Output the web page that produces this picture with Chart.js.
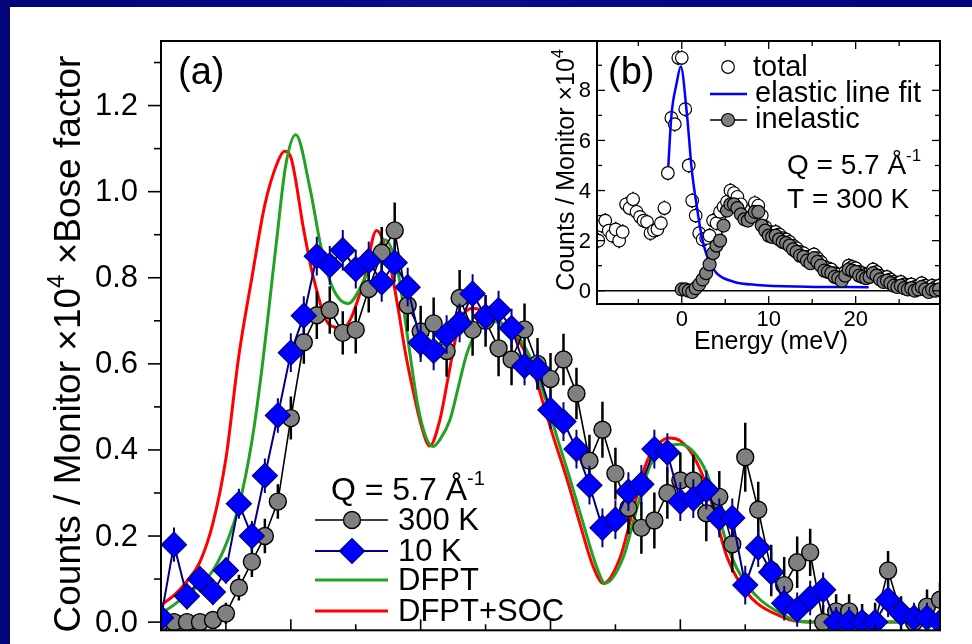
<!DOCTYPE html>
<html>
<head>
<meta charset="utf-8">
<script src="https://cdn.jsdelivr.net/npm/chart.js@4.4.1/dist/chart.umd.min.js"></script>
<style>
  html, body { margin: 0; padding: 0; }
  body {
    width: 972px; height: 644px; overflow: hidden; position: relative;
    background: linear-gradient(90deg, #03037a, #0b0b8c 45%, #04047e);
  }
  #sheet { position: absolute; left: 10px; top: 7px; right: 0; bottom: 0; background: #fff; }
  #main { position: absolute; left: 0; top: 0; width: 972px; height: 644px; }
  #inset { position: absolute; left: 540px; top: 30px; width: 432px; height: 340px; }
</style>
</head>
<body>
<div id="sheet"></div>
<canvas id="main" width="972" height="644"></canvas>
<canvas id="inset" width="432" height="340"></canvas>
<script>
const FONT = '"Liberation Sans", Arial, Helvetica, sans-serif';

// ---- panel (a): phonon spectrum, Q = 5.7 1/A ----
const energyMain = [0, 0.5, 1, 1.5, 2, 2.5, 3, 3.5, 4, 4.5, 5, 5.5, 6, 6.5, 7, 7.5, 8, 8.5, 9, 9.5,
  10, 10.5, 11, 11.5, 12, 12.5, 13, 13.5, 14, 14.5, 15, 15.5, 16, 16.5, 17, 17.5, 18, 18.5, 19, 19.5,
  20, 20.5, 21, 21.5, 22, 22.5, 23, 23.5, 24, 24.5, 25, 25.5, 26, 26.5, 27, 27.5, 28, 28.5, 29, 29.5, 30];

const counts300K = [0.00, 0.00, 0.00, 0.00, 0.005, 0.02, 0.08, 0.14, 0.20, 0.28,
  0.474, 0.65, 0.713, 0.725, 0.672, 0.679, 0.774, 0.858, 0.91, 0.736,
  0.675, 0.694, 0.63, 0.753, 0.679, 0.70, 0.636, 0.61, 0.68, 0.60,
  0.565, 0.61, 0.531, 0.375, 0.447, 0.345, 0.265, 0.219, 0.236, 0.30,
  0.329, 0.329, 0.253, 0.291, 0.181, 0.383, 0.261, 0.12, 0.086, 0.139,
  0.162, 0.0, 0.025, 0.025, 0.002, 0.0, 0.12, 0.02, 0.0, 0.036, 0.052];
const err300K = [0.02, 0.02, 0.02, 0.02, 0.02, 0.025, 0.03, 0.035, 0.04, 0.04,
  0.05, 0.05, 0.055, 0.055, 0.05, 0.055, 0.055, 0.06, 0.065, 0.06,
  0.06, 0.06, 0.06, 0.065, 0.06, 0.06, 0.065, 0.06, 0.06, 0.06,
  0.06, 0.06, 0.06, 0.06, 0.065, 0.06, 0.06, 0.06, 0.065, 0.06,
  0.065, 0.06, 0.065, 0.06, 0.065, 0.08, 0.065, 0.06, 0.065, 0.06,
  0.055, 0.04, 0.04, 0.04, 0.04, 0.045, 0.045, 0.04, 0.04, 0.04, 0.04];

const counts10K = [0.01, 0.18, 0.06, 0.10, 0.07, 0.12, 0.275, 0.20, 0.34, 0.48,
  0.626, 0.712, 0.85, 0.829, 0.864, 0.82, 0.839, 0.789, 0.835, 0.778,
  0.649, 0.63, 0.668, 0.695, 0.763, 0.71, 0.725, 0.683, 0.595, 0.588,
  0.493, 0.466, 0.402, 0.318, 0.219, 0.238, 0.303, 0.32, 0.402, 0.394,
  0.28, 0.287, 0.307, 0.242, 0.242, 0.086, 0.173, 0.116, 0.044, 0.029,
  0.056, 0.075, 0.0, 0.0, 0.0, 0.0, 0.052, 0.021, 0.01, 0.01, 0.0];
const err10K = [0.03, 0.04, 0.03, 0.03, 0.03, 0.03, 0.035, 0.035, 0.04, 0.04,
  0.045, 0.045, 0.045, 0.045, 0.047, 0.045, 0.045, 0.045, 0.045, 0.045,
  0.045, 0.045, 0.045, 0.045, 0.045, 0.045, 0.045, 0.045, 0.045, 0.045,
  0.045, 0.045, 0.045, 0.045, 0.045, 0.045, 0.045, 0.045, 0.045, 0.045,
  0.045, 0.045, 0.045, 0.045, 0.045, 0.045, 0.045, 0.045, 0.04, 0.04,
  0.04, 0.04, 0.035, 0.035, 0.035, 0.035, 0.04, 0.035, 0.035, 0.035, 0.035];

// calculated spectra
const dfptE = [0, 0.5, 1, 1.5, 2, 2.5, 3, 3.5, 3.86, 4.44, 4.8, 5.19, 5.73, 6.18, 6.63, 7.2,
  7.91, 8.62, 9.13, 9.52, 9.9, 10.2, 10.48, 10.74, 11.13, 11.45, 11.77, 12.16, 12.6, 13.2, 13.8, 14.4,
  14.86, 15.3, 15.75, 16.27, 16.78, 17.1, 17.8, 18.33, 18.84, 19.4, 20.0, 20.64, 21.1, 21.54, 21.93, 22.44,
  23.08, 23.85, 24.6, 25.5, 30];
const dfptV = [0.02, 0.04, 0.065, 0.086, 0.12, 0.18, 0.27, 0.42, 0.576, 0.88, 1.06, 1.132, 1.01, 0.866, 0.774, 0.74,
  0.805, 0.888, 0.812, 0.652, 0.5, 0.43, 0.408, 0.424, 0.47, 0.546, 0.622, 0.675, 0.7, 0.69, 0.66, 0.59,
  0.508, 0.42, 0.333, 0.227, 0.128, 0.09, 0.15, 0.265, 0.364, 0.405, 0.413, 0.386, 0.333, 0.234, 0.158, 0.097,
  0.052, 0.021, 0.002, 0, 0];

const socE = [0, 0.5, 1, 1.5, 2, 2.5, 3, 3.5, 4, 4.5, 4.76, 5, 5.5, 5.85, 6.5, 7,
  7.8, 8.3, 8.8, 9.13, 9.4, 9.7, 10.03, 10.35, 10.74, 11.06, 11.38, 11.64, 12, 12.5, 13, 13.7,
  14.34, 14.72, 15.1, 15.63, 16.14, 16.65, 17.04, 17.68, 18.2, 18.7, 19.2, 19.6, 20, 20.5, 21, 21.4,
  21.8, 22.3, 22.95, 23.85, 24.5, 25.5, 30];
const socV = [0.04, 0.062, 0.095, 0.14, 0.23, 0.38, 0.62, 0.8, 0.97, 1.07, 1.094, 1.08, 0.91, 0.805, 0.69, 0.683,
  0.79, 0.91, 0.835, 0.729, 0.63, 0.54, 0.455, 0.409, 0.47, 0.569, 0.668, 0.713, 0.729, 0.72, 0.7, 0.66,
  0.584, 0.508, 0.432, 0.333, 0.227, 0.128, 0.09, 0.15, 0.265, 0.371, 0.417, 0.428, 0.421, 0.386, 0.318, 0.234,
  0.151, 0.09, 0.044, 0.014, 0.002, 0, 0];

const yMajorTicks = [0, 0.2, 0.4, 0.6, 0.8, 1.0, 1.2];
const yMinorTicks = [0.1, 0.3, 0.5, 0.7, 0.9, 1.1, 1.3];
const xMajorTicks = [0, 5, 10, 15, 20, 25, 30];
const xMinorTicks = [2.5, 7.5, 12.5, 17.5, 22.5, 27.5];

// ---- panel (b): raw spectrum at 300 K ----
const totalE = [-9.6, -9.2, -8.8, -8.4, -8.0, -7.6, -7.2, -6.8, -6.4, -6.0,
  -5.6, -5.2, -4.8, -4.4, -4.0, -3.6, -3.2, -2.8, -2.4, -2.0,
  -1.6, -1.2, -0.8, -0.4, 0.0, 0.4, 0.8, 1.2, 1.6, 2.0,
  2.4, 2.8, 3.2, 3.6, 4.0, 4.4, 4.8, 5.2, 5.6, 6.0,
  6.4, 6.8, 7.2, 7.6, 8.0, 8.4, 8.8, 9.2, 9.6, 10.0,
  10.4, 10.8, 11.2, 11.6, 12.0, 12.4, 12.8, 13.2, 13.6, 14.0,
  14.4, 14.8, 15.2, 15.6, 16.0, 16.4, 16.8, 17.2, 17.6, 18.0,
  18.4, 18.8, 19.2, 19.6, 20.0, 20.4, 20.8, 21.2, 21.6, 22.0,
  22.4, 22.8, 23.2, 23.6, 24.0, 24.4, 24.8, 25.2, 25.6, 26.0,
  26.4, 26.8, 27.2, 27.6, 28.0, 28.4, 28.8, 29.2, 29.6];
const totalV = [2.0, 2.6, 2.8, 2.4, 2.2, 2.45, 2.0, 2.35, 3.45, 3.3,
  3.65, 3.15, 2.95, 2.8, 2.75, 2.3, 2.4, 2.45, 2.7, 3.3,
  4.7, 6.9, 6.65, 9.3, 9.3, 7.25, 5.0, 3.6, 3.0, 2.3,
  2.05, 2.1, 2.2, 2.8, 2.7, 3.15, 3.35, 3.55, 4.0, 3.9,
  3.75, 3.45, 3.05, 2.95, 3.2, 3.5, 3.4, 3.0, 2.55, 2.35,
  2.3, 2.35, 2.25, 2.1, 2.05, 1.95, 1.8, 1.7, 1.55, 1.5,
  1.35, 1.25, 1.45, 1.3, 1.15, 0.95, 0.9, 0.85, 0.7, 0.65,
  0.55, 0.75, 1.0, 0.95, 0.9, 0.75, 0.7, 0.65, 0.7, 0.85,
  0.75, 0.6, 0.5, 0.55, 0.45, 0.35, 0.3, 0.35, 0.25, 0.2,
  0.25, 0.15, 0.2, 0.3, 0.2, 0.1, 0.2, 0.15, 0.2];
const totalErr = 0.3;

const inelasticE = [0.0, 0.4, 0.8, 1.2, 1.6, 2.0, 2.4, 2.8, 3.2, 3.6,
  4.0, 4.4, 4.8, 5.2, 5.6, 6.0, 6.4, 6.8, 7.2, 7.6,
  8.0, 8.4, 8.8, 9.2, 9.6, 10.0, 10.4, 10.8, 11.2, 11.6,
  12.0, 12.4, 12.8, 13.2, 13.6, 14.0, 14.4, 14.8, 15.2, 15.6,
  16.0, 16.4, 16.8, 17.2, 17.6, 18.0, 18.4, 18.8, 19.2, 19.6,
  20.0, 20.4, 20.8, 21.2, 21.6, 22.0, 22.4, 22.8, 23.2, 23.6,
  24.0, 24.4, 24.8, 25.2, 25.6, 26.0, 26.4, 26.8, 27.2, 27.6,
  28.0, 28.4, 28.8, 29.2, 29.6];
const inelasticV = [0.05, 0.05, 0.0, -0.05, 0.1, 0.25, 0.45, 0.7, 1.05, 1.5,
  1.8, 2.0, 2.6, 3.2, 3.45, 3.45, 3.3, 3.05, 2.85, 2.8,
  2.95, 3.15, 3.15, 2.6, 2.4, 2.2, 2.15, 2.2, 2.05, 1.95,
  1.9, 1.8, 1.65, 1.55, 1.4, 1.35, 1.2, 1.1, 1.3, 1.15,
  1.0, 0.8, 0.75, 0.7, 0.55, 0.5, 0.4, 0.6, 0.85, 0.8,
  0.75, 0.6, 0.55, 0.5, 0.55, 0.7, 0.6, 0.45, 0.35, 0.4,
  0.3, 0.2, 0.15, 0.2, 0.1, 0.05, 0.1, 0.0, 0.05, 0.15,
  0.05, -0.05, 0.05, 0.0, 0.05];

const elasticFitE = [-1.55, -1.2, -0.58, -0.12, 0.58, 1.15, 1.73, 2.3, 3.07, 4.0, 5.95, 8.65, 14.4, 21.5];
const elasticFitV = [4.96, 6.96, 8.3, 8.95, 7.1, 4.83, 3.36, 2.16, 1.23, 0.7, 0.36, 0.23, 0.16, 0.14];

const insetXMajor = [0, 10, 20];
const insetXMinor = [-5, 5, 15, 25];
const insetYMajor = [0, 2, 4, 6, 8];
const insetYMinor = [1, 3, 5, 7, 9];

const pts = (xs, ys) => xs.map((x, i) => ({ x, y: ys[i] }));

function seg(ctx, x1, y1, x2, y2) {
  ctx.beginPath();
  ctx.moveTo(x1, y1);
  ctx.lineTo(x2, y2);
  ctx.stroke();
}

function marker(ctx, style, x, y, r, fill, stroke, bw) {
  ctx.beginPath();
  if (style === 'circle') {
    ctx.arc(x, y, r, 0, Math.PI * 2);
  } else {
    ctx.moveTo(x - r, y); ctx.lineTo(x, y - r); ctx.lineTo(x + r, y); ctx.lineTo(x, y + r);
    ctx.closePath();
  }
  ctx.fillStyle = fill;
  ctx.fill();
  ctx.lineWidth = bw;
  ctx.strokeStyle = stroke;
  ctx.stroke();
}

// text made of runs, each run may be raised (superscripts)
function richText(ctx, runs, x, y) {
  let cx = x;
  runs.forEach(r => {
    ctx.font = `${r.size}px ${FONT}`;
    ctx.fillText(r.t, cx, y - (r.rise || 0));
    cx += ctx.measureText(r.t).width;
  });
}
function richWidth(ctx, runs) {
  return runs.reduce((w, r) => { ctx.font = `${r.size}px ${FONT}`; return w + ctx.measureText(r.t).width; }, 0);
}

// vertical error bars, drawn under each series' own markers
const errorBars = {
  id: 'errorBars',
  beforeDatasetDraw(chart, args) {
    const ds = chart.data.datasets[args.index];
    const eb = ds.errorBars;
    if (!eb) return;
    const { ctx, chartArea: a, scales: { x, y } } = chart;
    ctx.save();
    ctx.beginPath();
    ctx.rect(a.left, a.top, a.right - a.left, a.bottom - a.top);
    ctx.clip();
    ctx.strokeStyle = eb.color;
    ctx.lineWidth = eb.width;
    ctx.beginPath();
    ds.data.forEach((p, i) => {
      const e = Array.isArray(eb.values) ? eb.values[i] : eb.values;
      const px = x.getPixelForValue(p.x);
      ctx.moveTo(px, y.getPixelForValue(p.y - e));
      ctx.lineTo(px, y.getPixelForValue(p.y + e));
    });
    ctx.stroke();
    ctx.restore();
  }
};

// frame, ticks, labels and legend of panel (a)
const mainDecor = {
  id: 'mainDecor',
  afterDatasetsDraw(chart) {
    const { ctx, chartArea: a, scales: { x, y } } = chart;
    ctx.save();
    ctx.strokeStyle = '#000';
    ctx.fillStyle = '#000';
    ctx.lineWidth = 2;
    ctx.strokeRect(a.left, a.top, a.right - a.left, a.bottom - a.top);

    ctx.lineWidth = 1.6;
    yMajorTicks.forEach(v => { const py = y.getPixelForValue(v); seg(ctx, a.left - 13, py, a.left, py); });
    yMinorTicks.forEach(v => { const py = y.getPixelForValue(v); seg(ctx, a.left - 7, py, a.left, py); });
    xMajorTicks.forEach(v => { const px = x.getPixelForValue(v); seg(ctx, px, a.bottom, px, a.bottom - 11); });
    xMinorTicks.forEach(v => { const px = x.getPixelForValue(v); seg(ctx, px, a.bottom, px, a.bottom - 6); });

    ctx.font = `31px ${FONT}`;
    ctx.textAlign = 'right';
    ctx.textBaseline = 'middle';
    yMajorTicks.forEach(v => ctx.fillText(v.toFixed(1), a.left - 23, y.getPixelForValue(v) + 1));

    // axis title, rotated
    const title = [
      { t: 'Counts / Monitor \u00d710', size: 37 },
      { t: '4', size: 24, rise: 16 },
      { t: ' \u00d7Bose factor', size: 37 }
    ];
    ctx.textAlign = 'left';
    ctx.textBaseline = 'alphabetic';
    const tw = richWidth(ctx, title);
    ctx.save();
    ctx.translate(80, 344);
    ctx.rotate(-Math.PI / 2);
    richText(ctx, title, -tw / 2, 0);
    ctx.restore();

    ctx.font = `38px ${FONT}`;
    ctx.fillText('(a)', 178, 84);

    // legend
    richText(ctx, [{ t: 'Q = 5.7 \u00c5', size: 32 }, { t: '-1', size: 20, rise: 15 }], 331, 500);
    const sets = chart.data.datasets;
    const rows = [
      { ds: sets[1], y: 520 },
      { ds: sets[0], y: 551 },
      { ds: sets[2], y: 580 },
      { ds: sets[3], y: 611 }
    ];
    rows.forEach(r => {
      const d = r.ds;
      ctx.strokeStyle = d.borderColor;
      ctx.lineWidth = d.borderWidth;
      seg(ctx, 315, r.y, 388, r.y);
      if (d.pointRadius > 0) {
        marker(ctx, d.pointStyle === 'rectRot' ? 'diamond' : 'circle', 352, r.y, d.pointRadius,
          d.pointBackgroundColor, d.pointBorderColor, d.pointBorderWidth);
      }
      ctx.fillStyle = '#000';
      ctx.font = `31px ${FONT}`;
      ctx.textBaseline = 'middle';
      ctx.fillText(d.label, 398, r.y + 1);
      ctx.textBaseline = 'alphabetic';
    });
    ctx.restore();
  }
};

// frame, ticks, labels and legend of panel (b)
const insetDecor = {
  id: 'insetDecor',
  beforeDatasetsDraw(chart) {
    const { ctx, chartArea: a, scales: { y } } = chart;
    ctx.save();
    ctx.fillStyle = '#fff';
    ctx.fillRect(a.left, a.top, a.right - a.left, a.bottom - a.top);
    ctx.strokeStyle = '#000';
    ctx.lineWidth = 1.6;
    const y0 = y.getPixelForValue(0);
    seg(ctx, a.left, y0, a.right, y0);
    ctx.restore();
  },
  afterDatasetsDraw(chart) {
    const { ctx, chartArea: a, scales: { x, y } } = chart;
    ctx.save();
    ctx.strokeStyle = '#000';
    ctx.fillStyle = '#000';
    ctx.lineWidth = 2;
    ctx.strokeRect(a.left, a.top, a.right - a.left, a.bottom - a.top);

    ctx.lineWidth = 1.3;
    const xt = (vals, len) => vals.forEach(v => {
      const px = x.getPixelForValue(v);
      seg(ctx, px, a.bottom, px, a.bottom - len);
      seg(ctx, px, a.top, px, a.top + len);
    });
    const yt = (vals, len) => vals.forEach(v => {
      const py = y.getPixelForValue(v);
      seg(ctx, a.left, py, a.left + len, py);
      seg(ctx, a.right, py, a.right - len, py);
    });
    xt(insetXMajor, 8); xt(insetXMinor, 5);
    yt(insetYMajor, 8); yt(insetYMinor, 5);

    ctx.font = `22px ${FONT}`;
    ctx.textAlign = 'right';
    ctx.textBaseline = 'middle';
    insetYMajor.forEach(v => ctx.fillText(String(v), a.left - 6, y.getPixelForValue(v) + 1));
    ctx.textAlign = 'center';
    insetXMajor.forEach(v => ctx.fillText(String(v), x.getPixelForValue(v), a.bottom + 16));
    ctx.font = `25px ${FONT}`;
    ctx.fillText('Energy (meV)', 231, a.bottom + 38);

    const title = [{ t: 'Counts / Monitor \u00d710', size: 25 }, { t: '4', size: 16, rise: 11 }];
    ctx.textAlign = 'left';
    ctx.textBaseline = 'alphabetic';
    const tw = richWidth(ctx, title);
    ctx.save();
    ctx.translate(34, 140);
    ctx.rotate(-Math.PI / 2);
    richText(ctx, title, -tw / 2, 0);
    ctx.restore();

    ctx.font = `38px ${FONT}`;
    ctx.fillText('(b)', 68, 54);

    // legend
    const [inel, fit, tot] = chart.data.datasets;
    marker(ctx, 'circle', 188, 37, tot.pointRadius, tot.pointBackgroundColor, tot.pointBorderColor, tot.pointBorderWidth);
    ctx.strokeStyle = fit.borderColor;
    ctx.lineWidth = fit.borderWidth;
    seg(ctx, 170, 64, 207, 64);
    ctx.strokeStyle = inel.borderColor;
    ctx.lineWidth = inel.borderWidth;
    seg(ctx, 170, 90, 207, 90);
    marker(ctx, 'circle', 188, 90, inel.pointRadius, inel.pointBackgroundColor, inel.pointBorderColor, inel.pointBorderWidth);
    ctx.fillStyle = '#000';
    ctx.font = `29px ${FONT}`;
    ctx.textBaseline = 'middle';
    ctx.fillText(tot.label, 213, 38);
    ctx.fillText(fit.label, 215, 64);
    ctx.fillText(inel.label, 215, 90);
    ctx.textBaseline = 'alphabetic';

    richText(ctx, [{ t: 'Q = 5.7 \u00c5', size: 28 }, { t: '-1', size: 17, rise: 13 }], 247, 144);
    ctx.font = `28px ${FONT}`;
    ctx.fillText('T = 300 K', 247, 178);
    ctx.restore();
  }
};

Chart.defaults.font.family = FONT;

new Chart(document.getElementById('main'), {
  type: 'line',
  data: {
    datasets: [
      {
        label: '10 K',
        data: pts(energyMain, counts10K),
        borderColor: '#000080', borderWidth: 2, tension: 0,
        pointStyle: 'rectRot', pointRadius: 12.5,
        pointBackgroundColor: '#0000ff', pointBorderColor: '#000080', pointBorderWidth: 1.2,
        clip: 0,
        errorBars: { values: err10K, color: '#000080', width: 2 }
      },
      {
        label: '300 K',
        data: pts(energyMain, counts300K),
        borderColor: '#000000', borderWidth: 1.6, tension: 0,
        pointStyle: 'circle', pointRadius: 8.5,
        pointBackgroundColor: '#808080', pointBorderColor: '#000000', pointBorderWidth: 1.4,
        clip: 0,
        errorBars: { values: err300K, color: '#000000', width: 2.5 }
      },
      {
        label: 'DFPT',
        data: pts(dfptE, dfptV),
        borderColor: '#22a222', borderWidth: 3, pointRadius: 0,
        cubicInterpolationMode: 'monotone', clip: 0
      },
      {
        label: 'DFPT+SOC',
        data: pts(socE, socV),
        borderColor: '#ff0000', borderWidth: 3, pointRadius: 0,
        cubicInterpolationMode: 'monotone', clip: 0
      }
    ]
  },
  options: {
    responsive: false,
    animation: false,
    events: [],
    layout: { padding: { left: 161, right: 32, top: 41, bottom: 3 } },
    scales: {
      x: { type: 'linear', min: 0, max: 30, display: false },
      y: { type: 'linear', min: -0.019, max: 1.35, display: false }
    },
    plugins: { legend: { display: false }, tooltip: { enabled: false } }
  },
  plugins: [errorBars, mainDecor]
});

new Chart(document.getElementById('inset'), {
  type: 'line',
  data: {
    datasets: [
      {
        label: 'inelastic',
        data: pts(inelasticE, inelasticV),
        borderColor: '#000000', borderWidth: 1.5, tension: 0,
        pointStyle: 'circle', pointRadius: 6.5,
        pointBackgroundColor: '#808080', pointBorderColor: '#000000', pointBorderWidth: 1.2,
        clip: 0
      },
      {
        label: 'elastic line fit',
        data: pts(elasticFitE, elasticFitV),
        borderColor: '#0000ff', borderWidth: 2.5, pointRadius: 0,
        cubicInterpolationMode: 'monotone', clip: 0
      },
      {
        label: 'total',
        data: pts(totalE, totalV),
        showLine: false,
        pointStyle: 'circle', pointRadius: 6.3,
        pointBackgroundColor: '#ffffff', pointBorderColor: '#000000', pointBorderWidth: 1.2,
        clip: 0,
        errorBars: { values: totalErr, color: '#000000', width: 1.5 }
      }
    ]
  },
  options: {
    responsive: false,
    animation: false,
    events: [],
    layout: { padding: { left: 57, right: 32, top: 11, bottom: 66 } },
    scales: {
      x: { type: 'linear', min: -9.75, max: 29.7, display: false },
      y: { type: 'linear', min: -0.53, max: 9.97, display: false }
    },
    plugins: { legend: { display: false }, tooltip: { enabled: false } }
  },
  plugins: [errorBars, insetDecor]
});
</script>
</body>
</html>
